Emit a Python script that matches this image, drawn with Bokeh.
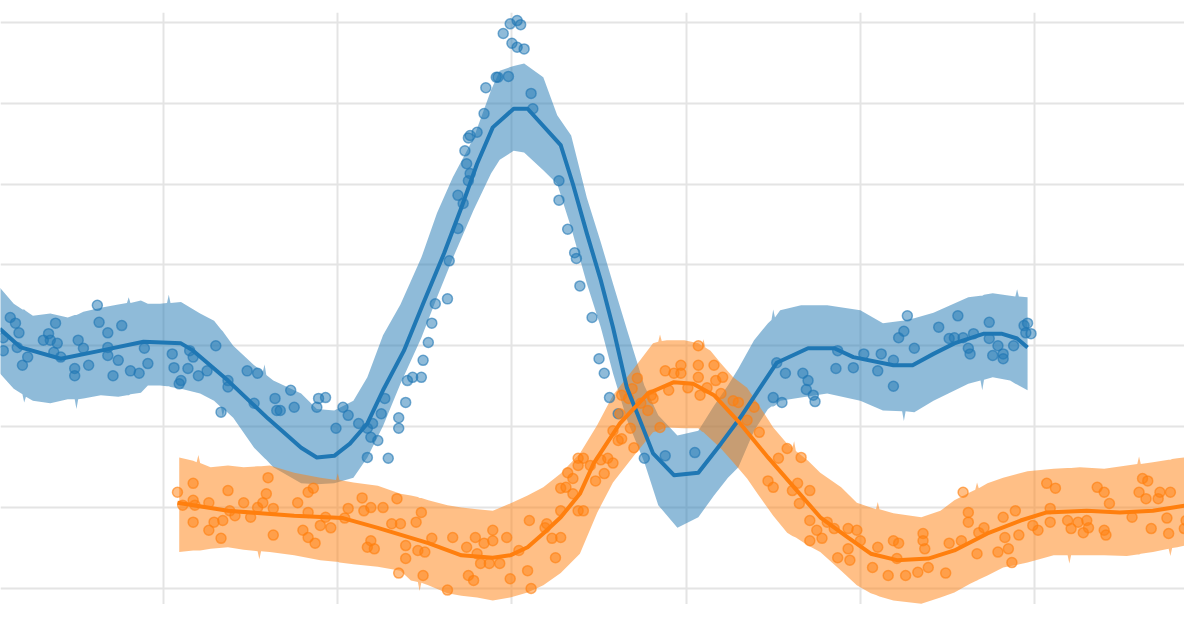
from bokeh.plotting import figure
from bokeh.models import Range1d, SingleIntervalTicker
from bokeh.embed import file_html
from bokeh.resources import INLINE

BLUE = "#1f77b4"
ORANGE = "#ff7f0e"

# ---------------- blue series: observations ----------------
blue_x = [0.08, 0.08, 0.12, 0.15, 0.17, 0.16, 0.19, 0.22, 0.31, 0.34, 0.35, 0.38, 0.39, 0.37, 0.41, 0.49,
          0.49, 0.51, 0.54, 0.57, 0.62, 0.63, 0.68, 0.68, 0.68, 0.71, 0.74, 0.76, 0.81, 0.86, 0.91, 0.89,
          1.05, 1.06, 1.10, 1.09, 1.14, 1.15, 1.17, 1.20, 1.25, 1.30, 1.37, 1.37, 1.33, 1.48, 1.54, 1.52,
          1.64, 1.65, 1.67, 1.75, 1.73, 1.88, 1.89, 1.93, 1.99, 2.03, 2.06, 2.12, 2.17, 2.19, 2.23, 2.25,
          2.27, 2.17, 2.29, 2.35, 2.35,
          2.20, 2.39, 2.40, 2.43, 2.48, 2.49, 2.52, 2.54, 2.56, 2.63, 2.64, 2.69, 2.69, 2.72, 2.75, 2.76,
          2.74, 2.73, 2.75, 2.80, 2.76, 2.84, 2.85, 2.91, 2.92, 2.98, 3.11, 3.12, 2.95, 2.99, 3.03, 3.05,
          3.00, 3.03, 3.07,
          3.27, 3.27, 3.32, 3.36, 3.37, 3.39, 3.46, 3.50, 3.53, 3.56, 3.61, 3.76, 3.88, 4.05,
          4.52, 4.57, 4.67, 4.70, 4.69, 4.73, 4.74, 4.50, 4.55, 4.86, 4.87, 4.96, 5.02, 5.12, 5.10, 5.19,
          5.19, 5.22, 5.25, 5.27, 5.31, 5.45, 5.51, 5.54, 5.56, 5.59, 5.63, 5.62, 5.65, 5.74, 5.74, 5.76,
          5.79, 5.82, 5.82, 5.88, 5.94, 5.96, 5.95, 5.98]
blue_y = [3.10, 2.94, 3.35, 3.28, 3.16, 2.98, 2.76, 2.86, 3.07, 3.15, 3.07, 3.28, 3.03, 2.92, 2.86, 2.72,
          2.63, 3.07, 2.97, 2.76, 3.50, 3.29, 3.16, 2.98, 2.88, 2.63, 2.82, 3.25, 2.69, 2.66, 2.78, 2.97,
          2.90, 2.73, 2.57, 2.53, 2.72, 2.94, 2.86, 2.63, 2.69, 3.00, 2.57, 2.49, 2.18, 2.69, 2.66, 2.29,
          2.35, 2.20, 2.20, 2.24, 2.45, 2.24, 2.35, 2.36, 1.98, 2.24, 2.14, 2.04, 1.98, 1.87, 1.83, 2.16,
          2.35, 1.62, 1.61, 2.11, 1.98,
          2.04, 2.30, 2.57, 2.61, 2.61, 2.82, 3.04, 3.28, 3.52, 3.58, 4.05, 4.45, 4.86, 4.76, 5.04, 5.13,
          5.25, 5.41, 5.57, 5.64, 5.60, 5.87, 6.19, 6.32, 6.32, 6.33, 6.12, 5.93, 6.86, 6.98, 7.02, 6.97,
          6.74, 6.69, 6.67,
          5.04, 4.80, 4.44, 4.15, 4.08, 3.74, 3.35, 2.84, 2.66, 2.36, 2.16, 1.61, 1.64, 1.68,
          2.79, 2.66, 2.66, 2.57, 2.46, 2.39, 2.31, 2.36, 2.30, 2.72, 2.94, 2.73, 2.90, 2.90, 2.69, 2.82,
          2.50, 3.10, 3.18, 3.37, 2.97, 3.23, 3.09, 3.10, 3.37, 3.10, 2.90, 2.97, 3.15, 3.29, 3.09, 2.88,
          3.00, 2.90, 2.84, 3.00, 3.25, 3.28, 3.16, 3.15]

# ---------------- blue series: smoothed trend ----------------
blue_line_x = [0.06, 0.18, 0.41, 0.64, 0.885, 1.10, 1.17, 1.37, 1.60, 1.79, 1.88, 1.98, 2.07, 2.17,
               2.26, 2.38, 2.49, 2.61, 2.71, 2.80, 2.89, 3.01, 3.09,
               3.28, 3.35, 3.43, 3.51, 3.58, 3.66, 3.72, 3.81, 3.93,
               4.07, 4.20, 4.31, 4.52, 4.70, 4.85, 4.96, 5.19, 5.30, 5.42,
               5.54, 5.71, 5.81, 5.90, 5.96]
blue_line_y = [3.21, 2.98, 2.84, 2.94, 3.05, 3.03, 2.94, 2.57, 2.10, 1.74, 1.62, 1.64, 1.79, 2.04,
               2.45, 2.94, 3.52, 4.14, 4.71, 5.25, 5.70, 5.93, 5.93,
               5.48, 5.00, 4.39, 3.81, 3.23, 2.48, 2.16, 1.67, 1.40,
               1.43, 1.79, 2.11, 2.79, 2.97, 2.97, 2.86, 2.76, 2.76, 2.90,
               3.03, 3.15, 3.15, 3.09, 2.98]

# ---------------- blue series: spread band ----------------
blue_band_x = [0.06, 0.14, 0.19, 0.20, 0.21, 0.25, 0.35, 0.45, 0.49, 0.50,
               0.51, 0.54, 0.64, 0.74, 0.79, 0.80, 0.81, 0.87, 0.91, 0.98,
               1.02, 1.03, 1.04, 1.10, 1.21, 1.29, 1.33, 1.34, 1.35, 1.40,
               1.52, 1.57, 1.58, 1.59, 1.63, 1.79, 1.88, 1.98, 2.09, 2.17,
               2.26, 2.36, 2.48, 2.57, 2.66, 2.78, 2.88, 2.93, 3.01, 3.07,
               3.18, 3.26, 3.34, 3.43, 3.51, 3.58, 3.66, 3.76, 3.84, 3.95,
               4.07, 4.16, 4.24, 4.30, 4.39, 4.47, 4.49, 4.50, 4.51, 4.54,
               4.66, 4.81, 5.00, 5.13, 5.24, 5.25, 5.26, 5.31, 5.42, 5.62,
               5.69, 5.70, 5.71, 5.76, 5.86, 5.89, 5.90, 5.91, 5.96]
blue_band_upper = [3.72, 3.52, 3.45, 3.45, 3.43, 3.37, 3.40, 3.35, 3.38, 3.38,
                   3.39, 3.42, 3.47, 3.51, 3.53, 3.60, 3.53, 3.56, 3.52, 3.52,
                   3.53, 3.63, 3.53, 3.54, 3.40, 3.31, 3.20, 3.18, 3.15, 3.00,
                   2.76, 2.68, 2.77, 2.64, 2.57, 2.41, 2.22, 2.20, 2.32, 2.61,
                   3.13, 3.51, 4.09, 4.64, 5.08, 5.57, 6.16, 6.40, 6.46, 6.49,
                   6.32, 5.85, 5.60, 4.83, 4.28, 3.77, 3.20, 2.51, 2.14, 1.89,
                   1.95, 2.26, 2.51, 2.72, 3.07, 3.28, 3.32, 3.45, 3.35, 3.44,
                   3.50, 3.50, 3.44, 3.28, 3.31, 3.31, 3.32, 3.34, 3.41, 3.60,
                   3.62, 3.62, 3.63, 3.65, 3.62, 3.61, 3.70, 3.61, 3.60]
blue_band_lower = [2.66, 2.47, 2.40, 2.30, 2.37, 2.32, 2.29, 2.34, 2.34, 2.22,
                   2.34, 2.35, 2.39, 2.37, 2.39, 2.39, 2.40, 2.42, 2.51, 2.51,
                   2.50, 2.50, 2.49, 2.47, 2.41, 2.32, 2.24, 2.12, 2.21, 2.11,
                   1.74, 1.63, 1.61, 1.59, 1.50, 1.30, 1.29, 1.30, 1.37, 1.62,
                   2.01, 2.53, 3.10, 3.60, 4.08, 4.68, 5.13, 5.30, 5.41, 5.39,
                   5.17, 5.00, 4.46, 3.77, 3.23, 2.66, 2.09, 1.56, 1.03, 0.75,
                   0.88, 1.15, 1.37, 1.50, 1.95, 2.22, 2.25, 2.25, 2.26, 2.32,
                   2.36, 2.41, 2.32, 2.20, 2.19, 2.07, 2.19, 2.18, 2.32, 2.53,
                   2.57, 2.45, 2.58, 2.61, 2.57, 2.53, 2.52, 2.51, 2.45]

# ---------------- orange series: observations ----------------
orange_x = [1.08, 1.11, 1.17, 1.17, 1.17, 1.18, 1.26, 1.26, 1.29, 1.33,
            1.34, 1.37, 1.38, 1.41, 1.46, 1.50, 1.54, 1.57, 1.59, 1.60,
            1.63, 1.63, 1.77, 1.80, 1.83, 1.83, 1.86, 1.83, 1.87, 1.90,
            1.96, 1.93, 2.06, 2.04, 2.14, 2.15, 2.19, 2.19, 2.17, 2.21,
            2.26, 2.31, 2.34, 2.36, 2.35, 2.39, 2.39, 2.45, 2.48, 2.46,
            2.50, 2.49, 2.54, 2.63, 2.66, 2.74, 2.75, 2.78, 2.79, 2.80,
            2.82, 2.84, 2.89, 2.89, 2.87, 2.93, 2.97, 2.99, 3.04, 3.09,
            3.11, 3.10, 3.20, 3.23, 3.25, 3.28, 3.28, 3.28, 3.31, 3.32,
            3.35, 3.38, 3.38, 3.35, 3.19, 3.41, 3.38, 3.41, 3.45, 3.48,
            3.53, 3.51, 3.55, 3.58, 3.58, 3.61, 3.63, 3.62, 3.63, 3.69,
            3.67, 3.68, 3.70, 3.72, 3.74, 3.78, 3.80, 3.81, 3.85, 3.90,
            3.88, 3.93, 3.97, 3.97, 4.01, 4.07, 4.07, 4.07, 4.08, 4.12,
            4.16, 4.17, 4.20, 4.21, 4.27, 4.30, 4.35, 4.39, 4.42, 4.47,
            4.50, 4.53, 4.58, 4.61, 4.64, 4.65, 4.66, 4.71, 4.71, 4.71,
            4.75, 4.78, 4.81, 4.85, 4.87, 4.93, 4.94, 4.98, 4.93, 5.00,
            5.07, 5.10, 5.16, 5.19, 5.22, 5.21, 5.26, 5.33, 5.36, 5.36,
            5.37, 5.39, 5.49, 5.51, 5.58, 5.59, 5.62, 5.62, 5.67, 5.68,
            5.71, 5.79, 5.82, 5.83, 5.85, 5.87, 5.89, 5.91, 5.99, 6.02,
            6.07, 6.12, 6.09, 6.09, 6.19, 6.21, 6.25, 6.28, 6.31, 6.30,
            6.36, 6.40, 6.40, 6.41, 6.43, 6.56, 6.60, 6.62, 6.65, 6.64,
            6.67, 6.71, 6.72, 6.77, 6.78, 6.76, 6.86, 6.87, 6.90, 6.93, 6.94]
orange_y = [1.19, 1.03, 1.30, 1.09, 0.82, 1.03, 1.06, 0.72, 0.82, 0.62,
            0.84, 1.21, 0.96, 0.90, 1.06, 0.88, 1.00, 1.06, 1.17, 1.37,
            0.66, 0.99, 1.06, 0.72, 0.63, 1.19, 1.24, 0.94, 0.56, 0.78,
            0.75, 0.88, 0.99, 0.87, 1.12, 0.96, 1.00, 0.59, 0.51, 0.49,
            1.00, 0.80, 1.11, 0.80, 0.19, 0.53, 0.37, 0.82, 0.94, 0.47,
            0.45, 0.16, 0.62, -0.02, 0.63, 0.51, 0.16, 0.10, 0.63, 0.43,
            0.31, 0.56, 0.72, 0.59, 0.31, 0.31, 0.63, 0.12, 0.47, 0.22,
            0.00, 0.84, 0.80, 0.62, 0.38, 0.63, 0.96, 1.24, 1.25, 1.43,
            1.36, 1.61, 0.96, 1.17, 0.75, 1.61, 1.52, 0.96, 1.52, 1.33,
            1.42, 1.59, 1.61, 1.55, 1.95, 1.83, 1.85, 2.16, 2.39, 2.47,
            2.35, 1.98, 1.74, 2.60, 2.29, 2.20, 2.39, 2.35, 1.99, 2.45,
            2.69, 2.66, 2.76, 2.66, 2.48, 2.61, 3.00, 2.76, 2.39, 2.48,
            2.76, 2.57, 2.41, 2.61, 2.32, 2.30, 2.08, 2.24, 1.93, 1.33,
            1.25, 1.61, 1.73, 1.21, 1.30, 1.05, 1.62, 1.21, 0.84, 0.59,
            0.72, 0.62, 0.82, 0.74, 0.38, 0.49, 0.35, 0.72, 0.74, 0.59,
            0.26, 0.51, 0.16, 0.59, 0.56, 0.37, 0.16, 0.20, 0.68, 0.59,
            0.49, 0.26, 0.19, 0.56, 0.59, 1.19, 0.94, 0.82, 0.43, 0.69,
            0.75, 0.45, 0.88, 0.63, 0.49, 0.32, 0.96, 0.66, 0.78, 0.72,
            1.30, 1.24, 0.99, 0.82, 0.84, 0.74, 0.82, 0.69, 0.75, 0.84,
            1.25, 1.19, 0.72, 0.66, 1.05, 0.88, 1.19, 1.36, 1.33, 1.11,
            0.74, 1.11, 1.19, 0.68, 1.19, 0.87, 0.74, 0.84, 1.05, 1.19, 1.31]

# ---------------- orange series: smoothed trend ----------------
orange_line_x = [1.08, 1.37, 1.75, 2.03, 2.23, 2.52, 2.71, 2.89, 2.99, 3.09,
                 3.18, 3.28, 3.39, 3.47, 3.62, 3.78, 3.93, 4.04, 4.16, 4.31,
                 4.47, 4.62, 4.77, 4.93, 5.06, 5.21, 5.39, 5.54, 5.73, 5.92,
                 6.07, 6.30, 6.49, 6.68, 6.88, 7.01]
orange_line_y = [1.06, 0.96, 0.90, 0.87, 0.75, 0.56, 0.41, 0.38, 0.41, 0.51,
                 0.68, 0.88, 1.17, 1.55, 2.04, 2.41, 2.55, 2.53, 2.39, 2.04,
                 1.62, 1.25, 0.88, 0.63, 0.43, 0.35, 0.37, 0.47, 0.68, 0.84,
                 0.94, 0.96, 0.94, 0.96, 1.03, 1.09]

# ---------------- orange series: spread band ----------------
orange_band_x = [1.09, 1.17, 1.19, 1.20, 1.21, 1.27, 1.37, 1.46, 1.54, 1.55,
                 1.56, 1.61, 1.75, 1.90, 1.99, 2.00, 2.01, 2.09, 2.23, 2.36,
                 2.42, 2.46, 2.47, 2.48, 2.52, 2.63, 2.71, 2.80, 2.89, 2.99,
                 3.09, 3.18, 3.28, 3.39, 3.49, 3.58, 3.70, 3.81, 3.84, 3.85,
                 3.86, 3.89, 3.99, 4.07, 4.09, 4.10, 4.11, 4.14, 4.20, 4.27,
                 4.35, 4.41, 4.50, 4.58, 4.61, 4.62, 4.63, 4.70, 4.77, 4.89,
                 4.98, 5.06, 5.09, 5.10, 5.11, 5.19, 5.35, 5.46, 5.54, 5.63,
                 5.66, 5.67, 5.68, 5.73, 5.82, 5.96, 6.11, 6.19, 6.20, 6.21,
                 6.26, 6.40, 6.53, 6.59, 6.60, 6.61, 6.68, 6.77, 6.78, 6.79,
                 6.82, 6.95, 7.01]
orange_band_upper = [1.62, 1.58, 1.56, 1.65, 1.55, 1.50, 1.52, 1.50, 1.51, 1.51,
                     1.51, 1.52, 1.43, 1.37, 1.34, 1.42, 1.34, 1.31, 1.27, 1.17,
                     1.15, 1.13, 1.12, 1.12, 1.09, 1.03, 1.00, 0.98, 0.96, 1.05,
                     1.15, 1.25, 1.42, 1.67, 2.02, 2.39, 2.72, 3.03, 3.05, 3.14,
                     3.06, 3.07, 3.07, 3.03, 3.00, 3.08, 2.98, 2.94, 2.78, 2.61,
                     2.48, 2.29, 1.99, 1.79, 1.74, 1.82, 1.70, 1.58, 1.43, 1.25,
                     1.06, 1.00, 0.98, 1.07, 0.98, 0.93, 0.88, 0.96, 1.09, 1.19,
                     1.22, 1.31, 1.24, 1.30, 1.37, 1.45, 1.48, 1.49, 1.49, 1.49,
                     1.50, 1.48, 1.52, 1.54, 1.63, 1.54, 1.56, 1.59, 1.59, 1.60,
                     1.61, 1.64, 1.66]
orange_band_lower = [0.45, 0.47, 0.47, 0.47, 0.47, 0.49, 0.51, 0.48, 0.46, 0.36,
                     0.46, 0.45, 0.41, 0.35, 0.33, 0.33, 0.32, 0.30, 0.27, 0.22,
                     0.10, 0.08, -0.03, 0.07, 0.04, -0.06, -0.09, -0.11, -0.15, -0.11,
                     -0.05, 0.04, 0.19, 0.43, 0.94, 1.31, 1.64, 1.93, 1.95, 1.96,
                     1.97, 1.99, 1.98, 1.98, 1.94, 1.93, 1.91, 1.85, 1.73, 1.56,
                     1.36, 1.17, 0.90, 0.69, 0.65, 0.64, 0.63, 0.53, 0.45, 0.22,
                     0.04, -0.06, -0.08, -0.09, -0.10, -0.15, -0.19, -0.11, -0.05, 0.06,
                     0.09, 0.10, 0.11, 0.16, 0.26, 0.32, 0.41, 0.41, 0.31, 0.41,
                     0.41, 0.41, 0.40, 0.42, 0.42, 0.43, 0.45, 0.49, 0.40, 0.50,
                     0.51, 0.57, 0.58]

p = figure(width=1184, height=604,
           x_range=Range1d(0.064, 6.861), y_range=Range1d(-0.198, 7.12),
           output_backend="svg", toolbar_location=None,
           min_border_left=0, min_border_right=0, min_border_top=12, min_border_bottom=0)

p.xaxis.ticker = SingleIntervalTicker(interval=1)
p.yaxis.ticker = SingleIntervalTicker(interval=1)
p.xgrid.ticker = SingleIntervalTicker(interval=1)
p.ygrid.ticker = SingleIntervalTicker(interval=1)
p.axis.visible = False
p.outline_line_color = None
p.grid.grid_line_color = "#e4e4e4"
p.grid.grid_line_width = 2
p.background_fill_color = "white"
p.border_fill_color = "white"

p.varea(x=blue_band_x, y1=blue_band_lower, y2=blue_band_upper,
        fill_color=BLUE, fill_alpha=0.5)
p.varea(x=orange_band_x, y1=orange_band_lower, y2=orange_band_upper,
        fill_color=ORANGE, fill_alpha=0.5)

p.scatter(blue_x, blue_y, size=10, fill_color=BLUE, fill_alpha=0.5,
          line_color=BLUE, line_alpha=0.6, line_width=1.5)
p.scatter(orange_x, orange_y, size=10, fill_color=ORANGE, fill_alpha=0.5,
          line_color=ORANGE, line_alpha=0.6, line_width=1.5)

p.line(blue_line_x, blue_line_y, line_color=BLUE, line_width=4, line_join="round")
p.line(orange_line_x, orange_line_y, line_color=ORANGE, line_width=4, line_join="round")

open("out.html", "w").write(file_html(p, INLINE))
